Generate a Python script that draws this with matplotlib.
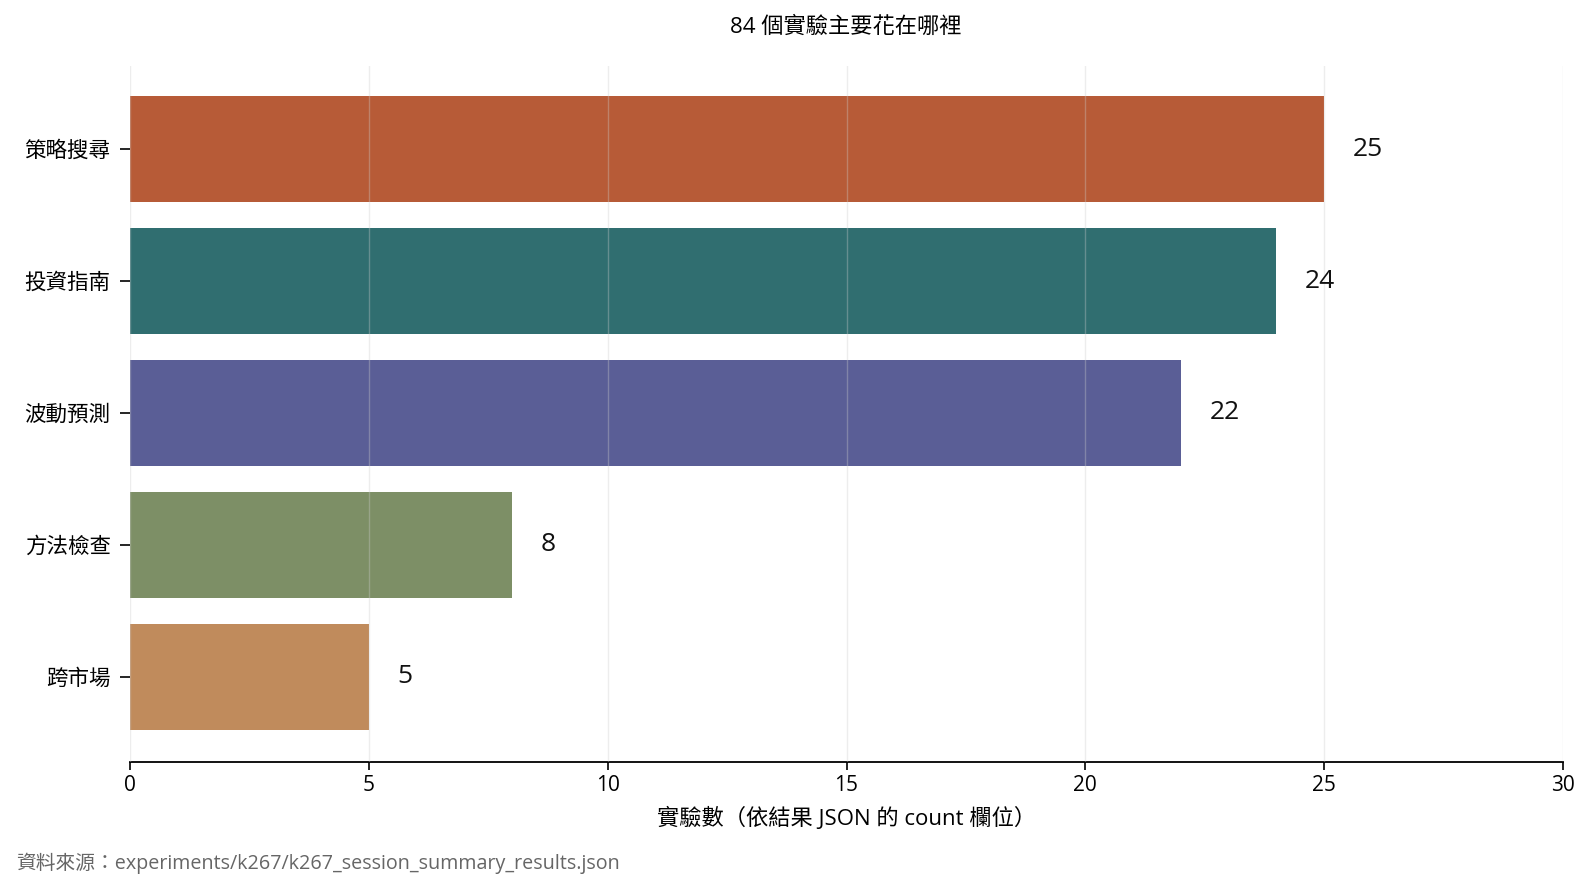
import matplotlib
matplotlib.use("Agg")
import matplotlib.pyplot as plt

categories = ["策略搜尋", "投資指南", "波動預測", "方法檢查", "跨市場"]
counts = [25, 24, 22, 8, 5]
colors = ["#B75B37", "#306E70", "#5A5E96", "#7D8F66", "#C08B5C"]

title = "84 個實驗主要花在哪裡"
xlabel = "實驗數（依結果 JSON 的 count 欄位）"
source = "資料來源：experiments/k267/k267_session_summary_results.json"

plt.rcParams["font.family"] = ["Open Sans", "Noto Sans CJK TC", "DejaVu Sans"]

fig = plt.figure(figsize=(15.92, 8.88), dpi=100)
ax = fig.add_axes([130 / 1592, 1 - 762 / 888, (1563 - 130) / 1592, (762 - 66) / 888])

y = list(range(len(categories)))
ax.barh(y, counts, height=0.8, color=colors, zorder=1)
for yi, v in zip(y, counts):
    ax.text(v + 0.6, yi, str(v), ha="left", va="center", fontsize=19, color="#111111")

ax.set_yticks(y)
ax.set_yticklabels(categories, fontsize=15.5)
ax.set_ylim(4.646, -0.63)
ax.set_xlim(0, 30)
ax.set_xticks(range(0, 31, 5))
ax.tick_params(axis="x", labelsize=15, length=6, width=1.2)
ax.tick_params(axis="y", length=7, width=1.2, pad=7)

ax.grid(axis="x", color="#cccccc", alpha=0.35, lw=1, zorder=3)
ax.set_axisbelow(False)
for s in ("top", "right", "left"):
    ax.spines[s].set_visible(False)
ax.spines["bottom"].set_linewidth(1.3)

ax.set_xlabel(xlabel, fontsize=16, labelpad=8)
fig.text(846 / 1592, 1 - 27 / 888, title, ha="center", va="center", fontsize=16)
fig.text(16 / 1592, 1 - 863 / 888, source, ha="left", va="center", fontsize=14.2, color="#666666")

fig.savefig("out.png", dpi=100)
